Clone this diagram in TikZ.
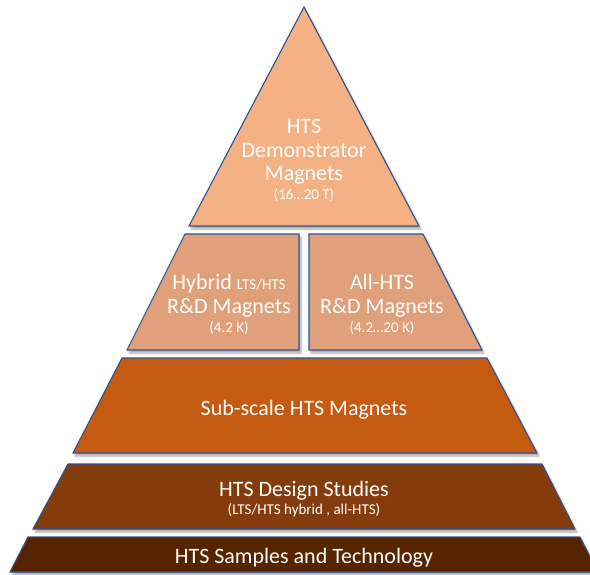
\documentclass[tikz,border=0pt]{standalone}
\usepackage{fontspec}
\setmainfont{Carlito}
\usetikzlibrary{shadows.blur}
\definecolor{edge}{RGB}{47,82,143}
\definecolor{cTop}{RGB}{244,177,131}
\definecolor{cMid}{RGB}{223,160,122}
\definecolor{cSub}{RGB}{197,90,17}
\definecolor{cDes}{RGB}{132,60,12}
\definecolor{cSam}{RGB}{86,37,0}
\tikzset{
  block/.style={draw=edge, line width=1.1pt, line join=miter,
    blur shadow={shadow xshift=2pt, shadow yshift=-3pt, shadow blur steps=6, shadow opacity=35, shadow blur radius=2pt}},
  big/.style={text=white, anchor=base, inner sep=0pt, font=\fontsize{22}{24}\selectfont},
  small/.style={text=white, anchor=base, inner sep=0pt, font=\fontsize{15}{16}\selectfont}
}
\begin{document}
\begin{tikzpicture}[x=1pt,y=-1pt]
\useasboundingbox (0,0) rectangle (590,574);
% shapes
\path[block, fill=cSam] (28,537) -- (580,537) -- (598,572) -- (10,572) -- cycle;
\path[block, fill=cDes] (68,464) -- (542,464) -- (575,529) -- (33,529) -- cycle;
\path[block, fill=cSub] (122,358) -- (487,358) -- (537,453) -- (73,453) -- cycle;
\path[block, fill=cMid] (185,234) -- (299,234) -- (299,350) -- (127,350) -- cycle;
\path[block, fill=cMid] (309,234) -- (423,234) -- (482,350) -- (309,350) -- cycle;
\path[block, fill=cTop] (304,7) -- (419,226) -- (189,226) -- cycle;
% texts
\node[big] (t1) at (304,133) {HTS};
\node[big] (t2) at (304,157) {Demonstrator};
\node[big] (t3) at (304,180) {Magnets};
\node[small] (t4) at (304,199) {(16…20 T)};
\node[big] (h1) at (229,289) {Hybrid {\fontsize{15}{16}\selectfont LTS/HTS}};
\node[big] (h2) at (229,313) {R\&D Magnets};
\node[small] (h3) at (229,332) {(4.2 K)};
\node[big] (a1) at (382,289) {All-HTS};
\node[big] (a2) at (382,313) {R\&D Magnets};
\node[small] (a3) at (382,332) {(4.2…20 K)};
\node[big] (s1) at (304,415) {Sub-scale HTS Magnets};
\node[big] (d1) at (304,496) {HTS Design Studies};
\node[small] (d2) at (304,514) {(LTS/HTS hybrid , all-HTS)};
\node[big] (p1) at (304,563) {HTS Samples and Technology};
\end{tikzpicture}
\end{document}
